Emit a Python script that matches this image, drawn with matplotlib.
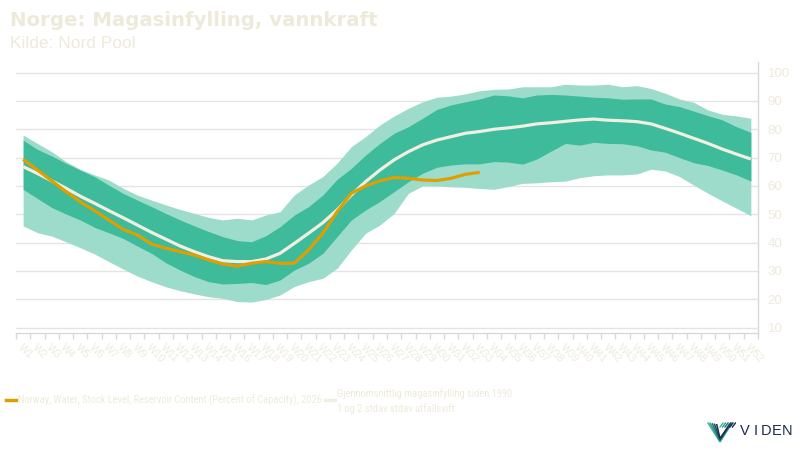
import matplotlib
matplotlib.use("Agg")
import matplotlib.pyplot as plt
from matplotlib.lines import Line2D
from matplotlib import font_manager
from matplotlib.font_manager import FontProperties
from matplotlib.textpath import TextPath
import numpy as np
import os

# ---------------- data ----------------
weeks = [f"W{i}" for i in range(1, 53)]

outer_upper = [78.0, 75.0, 72.1, 68.6, 65.9, 63.9, 62.1, 59.2, 56.8, 55.0, 53.3, 51.7, 50.3,
               48.9, 48.0, 48.6, 48.0, 49.7, 50.9, 56.8, 60.3, 63.3, 68.0, 73.9, 77.4, 81.5,
               84.7, 87.4, 89.7, 91.3, 91.7, 92.5, 93.6, 94.1, 94.2, 95.0, 95.0, 95.0, 95.9,
               95.6, 95.6, 95.9, 95.0, 95.4, 94.4, 92.7, 90.7, 89.5, 86.8, 85.3, 84.7, 83.9]
inner_upper = [76.2, 72.9, 70.6, 68.0, 65.6, 63.3, 60.3, 57.4, 55.0, 52.7, 50.3, 48.0, 45.9,
               43.9, 42.1, 40.7, 40.3, 42.4, 45.6, 49.7, 52.7, 56.8, 62.3, 66.2, 70.9, 75.0,
               78.6, 80.9, 83.9, 87.0, 88.6, 89.7, 90.7, 92.1, 91.8, 91.1, 92.1, 92.3, 92.1,
               91.7, 91.3, 91.1, 90.6, 90.7, 90.7, 88.9, 88.0, 86.4, 84.8, 83.3, 80.9, 78.9]
mean_line = [66.8, 64.4, 61.8, 59.2, 56.4, 53.9, 51.3, 48.8, 46.2, 43.6, 41.2, 38.8, 36.8,
             35.0, 33.6, 33.3, 33.3, 34.2, 36.2, 39.7, 43.3, 47.0, 51.5, 56.8, 61.5, 65.6,
             69.2, 72.1, 74.5, 76.2, 77.4, 78.6, 79.2, 80.0, 80.5, 81.1, 81.9, 82.3, 82.8,
             83.3, 83.6, 83.2, 83.0, 82.7, 81.9, 80.3, 78.6, 76.8, 75.0, 73.0, 71.2, 69.5]
inner_lower = [58.8, 55.6, 52.4, 50.1, 48.0, 45.4, 43.5, 41.5, 38.8, 36.2, 32.9, 30.3, 28.0,
               26.2, 25.4, 25.6, 25.9, 25.2, 26.8, 30.3, 32.7, 36.2, 42.1, 48.0, 51.5, 54.5,
               58.0, 61.5, 64.5, 66.6, 67.4, 67.8, 67.8, 68.6, 68.4, 67.7, 69.5, 72.3, 75.0,
               74.4, 75.4, 75.0, 74.9, 74.2, 72.7, 71.9, 70.0, 68.2, 67.2, 65.6, 63.9, 61.7]
outer_lower = [45.9, 43.5, 42.3, 40.3, 38.2, 36.0, 33.3, 30.7, 28.2, 26.2, 24.4, 23.0, 21.9,
               20.9, 20.3, 19.2, 19.0, 19.9, 21.5, 24.5, 26.2, 27.4, 30.9, 37.4, 43.3, 46.2,
               50.3, 57.4, 60.0, 60.0, 59.7, 59.5, 59.1, 58.8, 59.8, 60.9, 61.1, 61.5, 61.7,
               62.9, 63.6, 63.9, 63.9, 64.2, 65.9, 65.3, 63.3, 60.3, 57.4, 54.7, 52.1, 49.5]
level_2026 = [69.4, 65.6, 61.8, 58.0, 54.4, 51.3, 48.0, 44.7, 42.7, 39.5, 38.0, 36.8, 35.6,
              33.9, 32.4, 31.7, 32.7, 33.3, 32.7, 32.7, 37.4, 43.3, 50.9, 57.4, 60.0, 61.8,
              63.0, 62.7, 62.1, 61.9, 62.7, 64.1, 64.8]
y_ticks = [10, 20, 30, 40, 50, 60, 70, 80, 90, 100]

title = "Norge: Magasinfylling, vannkraft"
subtitle = "Kilde: Nord Pool"
legend_2026 = "Norway, Water, Stock Level, Reservoir Content (Percent of Capacity), 2026"
legend_avg = ["Gjennomsnittlig magasinfylling siden 1990", "1 og 2 stdav stdav utfallsvift"]

# ---------------- style ----------------
TXT = "#eeeadb"
GRID = "#e4e4e4"
AXL = "#d9d9d9"
LIGHT = "#9ddccb"
DARK = "#3dbb9a"
MEANC = "#f1eee2"
ORANGE = "#e09f00"

plt.rcParams["font.family"] = ["Liberation Sans", "DejaVu Sans"]


def narrowest_font(sample):
    """Pick the narrowest regular sans font installed (condensed if available)."""
    ok_names = ("liberation sans", "roboto", "open sans", "lato", "inter", "noto sans",
                "dejavu sans")
    best = None
    for f in font_manager.fontManager.ttflist:
        nm = f.name.lower()
        base = os.path.basename(f.fname).lower()
        if "mono" in nm or "cjk" in nm or "mono" in base or "serif" in nm:
            continue
        if not any(nm.startswith(o) for o in ok_names):
            continue
        if f.style != "normal":
            continue
        if any(k in base for k in ("bold", "italic", "oblique", "light", "thin", "black",
                                   "medium", "semibold", "extra", "heavy")):
            continue
        try:
            fp = FontProperties(fname=f.fname, size=10)
            tp = TextPath((0, 0), sample, prop=fp)
            ext = tp.get_extents()
            hp = TextPath((0, 0), "H", prop=fp).get_extents().height
            ratio = ext.width / max(hp, 1e-6)
        except Exception:
            continue
        if best is None or ratio < best[0]:
            best = (ratio, f.fname)
    if best is None:
        return FontProperties(family="Liberation Sans")
    return FontProperties(fname=best[1])


W, H = 800, 450
fig = plt.figure(figsize=(8, 4.5), dpi=100)
fig.patch.set_facecolor("white")


def px(y):
    return 1 - y / H


ax_left, ax_right, ax_top, ax_bot = 16, 758, 62, 333
ax = fig.add_axes([ax_left / W, px(ax_bot), (ax_right - ax_left) / W, (ax_bot - ax_top) / H])
ax.set_facecolor("white")

ppu = (327.6 - 72.6) / 90.0
ylo = 100 - (ax_bot - 72.6) / ppu
yhi = 100 - (ax_top - 72.6) / ppu
ax.set_ylim(ylo, yhi)
ax.set_xlim(-0.5, len(weeks) - 0.5)

x = np.arange(len(weeks))
ax.fill_between(x, outer_lower, outer_upper, color=LIGHT, lw=0, zorder=2)
ax.fill_between(x, inner_lower, inner_upper, color=DARK, lw=0, zorder=3)
ax.plot(x, mean_line, color=MEANC, lw=2.3, zorder=4, solid_capstyle="butt")
ax.plot(np.arange(len(level_2026)), level_2026, color=ORANGE, lw=2.3, zorder=5,
        solid_joinstyle="round", solid_capstyle="butt")

ax.set_yticks(y_ticks)
ax.yaxis.grid(True, color=GRID, lw=1.0, zorder=0)
ax.set_axisbelow(True)
ax.yaxis.tick_right()
ax.tick_params(axis="y", length=0, pad=7, labelsize=9.5, labelcolor=TXT)
for lab in ax.get_yticklabels():
    lab.set_ha("left")

ax.set_xticks(x)
ax.set_xticklabels(weeks, rotation=-45, ha="left", va="top", rotation_mode="anchor",
                   fontsize=7.5, color=TXT)
ax.tick_params(axis="x", which="major", length=0, pad=7)
ax.set_xticks(np.arange(-0.5, len(weeks)), minor=True)
ax.tick_params(axis="x", which="minor", length=4, width=1, color=AXL, direction="out")

for s in ["left", "top"]:
    ax.spines[s].set_visible(False)
ax.spines["bottom"].set_color(AXL)
ax.spines["right"].set_color(AXL)
ax.spines["bottom"].set_linewidth(1)
ax.spines["right"].set_linewidth(1)

# ---------------- titles ----------------
fig.text(10 / W, px(21), title, fontsize=14.2, fontweight="bold", color=TXT, va="center",
         ha="left", family=["DejaVu Sans"])
fig.text(10 / W, px(44), subtitle, fontsize=12.5, color=TXT, va="center", ha="left")

# ---------------- legend ----------------
nfp = narrowest_font(legend_2026)
fig.add_artist(Line2D([6 / W, 16 / W], [px(400), px(400)], color=ORANGE, lw=2.5))
t1 = fig.text(18 / W, px(400), legend_2026, color=TXT, va="center", ha="left",
              fontproperties=nfp.copy())
t1.set_fontsize(10)
fig.add_artist(Line2D([325 / W, 335 / W], [px(400), px(400)], color=MEANC, lw=2.5))
t2a = fig.text(337 / W, px(394), legend_avg[0], color=TXT, va="center", ha="left",
               fontproperties=nfp.copy())
t2b = fig.text(337 / W, px(409), legend_avg[1], color=TXT, va="center", ha="left",
               fontproperties=nfp.copy())

fig.canvas.draw()
r = fig.canvas.get_renderer()
w1 = t1.get_window_extent(r).width
fs = min(10.0, 10 * 304.0 / w1)
for t in (t1, t2a, t2b):
    t.set_fontsize(fs)

# ---------------- logo ----------------
lax = fig.add_axes([706 / W, px(444), 30 / W, 24 / H])
lax.set_xlim(0, 30)
lax.set_ylim(0, 24)
lax.axis("off")
cols = ["#3dbb9a", "#2f9c8a", "#27707a", "#1f4a63", "#1d2b4f"]
for k, c in enumerate(cols):
    off = k * 2.2
    lax.plot([2 + off, 14, 26 - off * 0.3], [21 - off * 0.2, 2 + off * 0.4, 21 - off * 0.2],
             color=c, lw=1.1, solid_joinstyle="miter")
for k in range(6):
    lax.plot([14 + k * 2.5, 17 + k * 2.5], [17, 21], color=cols[min(k, 4)], lw=1.0)
letters = "VIDEN"
for k, ch in enumerate(letters):
    fig.text((745 + k * 10.6) / W, px(431), ch, fontsize=10.5, color="#1d2b4f",
             va="center", ha="center")

fig.savefig("out.png", dpi=100, facecolor="white")
